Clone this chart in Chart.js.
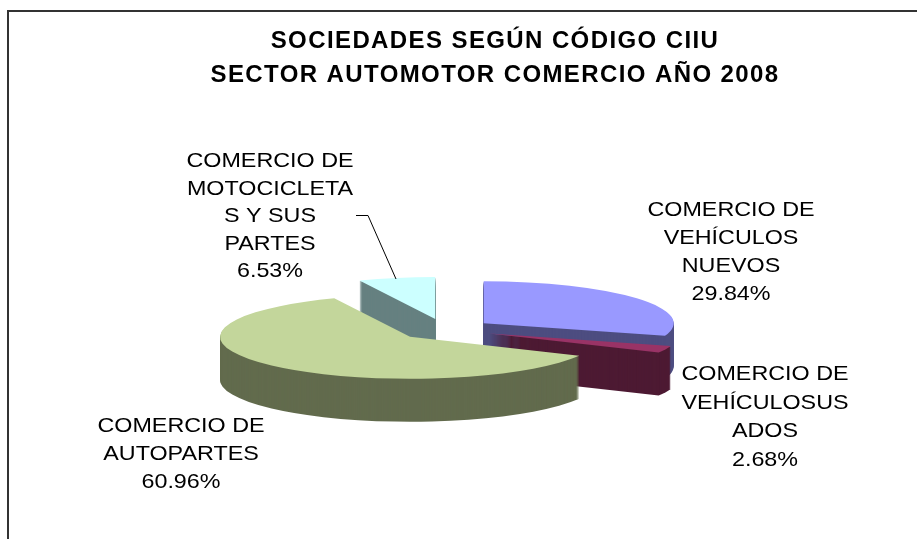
<!DOCTYPE html>
<html>
<head>
<meta charset="utf-8">
<style>
  html, body { margin: 0; padding: 0; background: #fff; }
  #wrap { width: 917px; height: 539px; position: relative; overflow: hidden; }
</style>
<script src="https://cdn.jsdelivr.net/npm/chart.js@4"></script>
</head>
<body>
<div id="wrap"><canvas id="pieChart" width="917" height="539"></canvas></div>
<script>
const categories = ['COMERCIO DE VEHÍCULOS NUEVOS', 'COMERCIO DE VEHÍCULOSUSADOS', 'COMERCIO DE AUTOPARTES', 'COMERCIO DE MOTOCICLETAS Y SUS PARTES'];
const shares = [29.84, 2.68, 60.96, 6.53];
const topColors = ['#9999ff', '#993366', '#c3d69b', '#ccffff'];
const sideColors = ['#4d4d80', '#4d1a33', '#626b4d', '#668080'];
const titleLines = ['SOCIEDADES SEGÚN CÓDIGO CIIU', 'SECTOR AUTOMOTOR COMERCIO AÑO 2008'];

// wrapped the same way the original labels wrap
const labelLines = [
    ['COMERCIO DE', 'VEHÍCULOS', 'NUEVOS'],
    ['COMERCIO DE', 'VEHÍCULOSUS', 'ADOS'],
    ['COMERCIO DE', 'AUTOPARTES'],
    ['COMERCIO DE', 'MOTOCICLETA', 'S Y SUS', 'PARTES']
];
const labelSpots = [
    { x: 731, y: 216, gap: 28 },
    { x: 765, y: 380, gap: 28.5 },
    { x: 181, y: 432, gap: 28 },
    { x: 270, y: 167, gap: 27.5 }
];

const pieCenter = { x: 445, y: 329.5 };
const squash = 0.221;
const explode = 48;
const depth = 43;
const drawOrder = [3, 0, 1, 2];
const labelStretch = 1.11;

// pie on its side: squashed arcs stacked up to fake the 3d wall
const tiltedPie = {
    id: 'tiltedPie',
    beforeDraw(chart) {
        // title text is a bit spaced out in the original
        chart.ctx.letterSpacing = '1.4px';
    },
    beforeDatasetsDraw(chart) {
        const ctx = chart.ctx;
        const arcs = chart.getDatasetMeta(0).data;
        drawOrder.forEach(i => {
            const arc = arcs[i];
            const mid = (arc.startAngle + arc.endAngle) / 2;
            const saved = arc.options;
            for (let d = depth; d >= 0; d--) {
                arc.options = { ...saved, backgroundColor: d === 0 ? topColors[i] : sideColors[i] };
                ctx.save();
                ctx.translate(pieCenter.x, pieCenter.y + d);
                ctx.scale(1, squash);
                ctx.translate(Math.cos(mid) * explode - arc.x, Math.sin(mid) * explode - arc.y);
                arc.draw(ctx);
                ctx.restore();
            }
            arc.options = saved;
        });
        return false;
    },
    afterDraw(chart) {
        const ctx = chart.ctx;
        ctx.save();
        // frame
        ctx.strokeStyle = '#333';
        ctx.lineWidth = 2;
        ctx.beginPath();
        ctx.moveTo(8, 539);
        ctx.lineTo(8, 11);
        ctx.lineTo(917, 11);
        ctx.stroke();
        // labels, glyphs are wider than plain Arial in the original
        ctx.fillStyle = '#000';
        ctx.font = '21px "Liberation Sans"';
        ctx.letterSpacing = '0px';
        ctx.textAlign = 'center';
        labelLines.forEach((lines, i) => {
            const spot = labelSpots[i];
            lines.concat(shares[i].toFixed(2) + '%').forEach((t, n) => {
                ctx.save();
                ctx.translate(spot.x, spot.y + n * spot.gap);
                ctx.scale(labelStretch, 1);
                ctx.fillText(t, 0, 0);
                ctx.restore();
            });
        });
        // leader line for the motorcycle slice
        ctx.strokeStyle = '#000';
        ctx.lineWidth = 1;
        ctx.beginPath();
        ctx.moveTo(356, 215.5);
        ctx.lineTo(368, 215.5);
        ctx.lineTo(396, 279);
        ctx.stroke();
        ctx.restore();
    }
};

new Chart(document.getElementById('pieChart'), {
    type: 'pie',
    data: {
        labels: categories,
        datasets: [{
            data: shares,
            backgroundColor: topColors,
            borderWidth: 0
        }]
    },
    options: {
        responsive: false,
        animation: false,
        radius: 190,
        layout: { padding: { left: 73 } },
        plugins: {
            legend: { display: false },
            tooltip: { enabled: false },
            title: {
                display: true,
                text: titleLines,
                color: '#000',
                font: { family: '"Liberation Sans"', size: 24, weight: 'bold', lineHeight: 1.42 },
                padding: { top: 24, bottom: 0 }
            }
        }
    },
    plugins: [tiltedPie]
});
</script>
</body>
</html>
